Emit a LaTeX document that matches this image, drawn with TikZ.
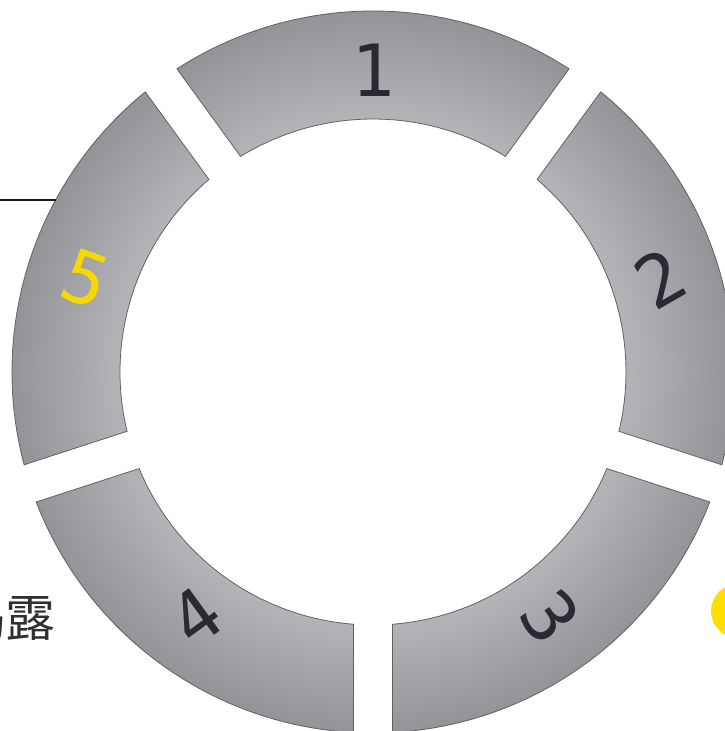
\documentclass[tikz,border=0pt]{standalone}
\usepackage{fontspec}
\newfontfamily\numfont{DejaVu Sans Mono}
\newfontfamily\cjk{Noto Sans CJK SC}
\definecolor{seglight}{HTML}{B3B4B8}
\definecolor{segdark}{HTML}{939498}
\definecolor{segedge}{HTML}{616165}
\definecolor{numdark}{HTML}{2A2A33}
\definecolor{numyellow}{HTML}{F7D900}
\definecolor{dotyellow}{HTML}{FFDD00}
\definecolor{cjkgray}{HTML}{303030}
\pgfdeclareradialshading{ringshade}{\pgfpoint{0bp}{0bp}}{color(0bp)=(seglight); color(17.5bp)=(seglight); color(25bp)=(segdark); color(50bp)=(segdark)}
\tikzset{
  segline/.style={draw=segedge, line width=0.8pt, line join=miter},
  numtext/.style={font=\numfont\fontsize{72}{72}\selectfont, inner sep=0pt},
  cjktext/.style={font=\cjk\fontsize{50}{50}\selectfont, text=cjkgray, inner sep=0pt},
  leaderline/.style={draw=black!90, line width=1.3pt},
}
\begin{document}
\begin{tikzpicture}[x=1pt,y=1pt]
\useasboundingbox (-373,-359) rectangle (352,372);
\foreach \c/\lab/\rot/\col in {90/1/0/numdark, 18/2/30/numdark, 306/3/-54/numdark, 234/4/36/numdark, 162/5/-20/numyellow} {
  \pgfmathsetmacro\ao{\c-36+3.105}
  \pgfmathsetmacro\bo{\c+36-3.105}
  \pgfmathsetmacro\ai{\c+36-4.438}
  \pgfmathsetmacro\bi{\c-36+4.438}
  \begin{scope}
    \clip (\ao:361) arc[start angle=\ao, end angle=\bo, radius=361] -- (\ai:253) arc[start angle=\ai, end angle=\bi, radius=253] -- cycle;
    \shade[shading=ringshade] (0,0) circle (361);
  \end{scope}
  \draw[segline] (\ao:361) arc[start angle=\ao, end angle=\bo, radius=361] -- (\ai:253) arc[start angle=\ai, end angle=\bi, radius=253] -- cycle;
  \node[numtext, text=\col, rotate=\rot] (n\lab) at (\c:302) {\lab};
}
\coordinate (lineL) at (-380,172);
\coordinate (lineR) at (-317.3,172);
\draw[leaderline] (lineL) -- (lineR);
\node[cjktext, anchor=east] (lu) at (-317,-246) {揭露};
\coordinate (dot) at (365,-239);
\fill[dotyellow] (dot) circle (27);
\end{tikzpicture}
\end{document}
